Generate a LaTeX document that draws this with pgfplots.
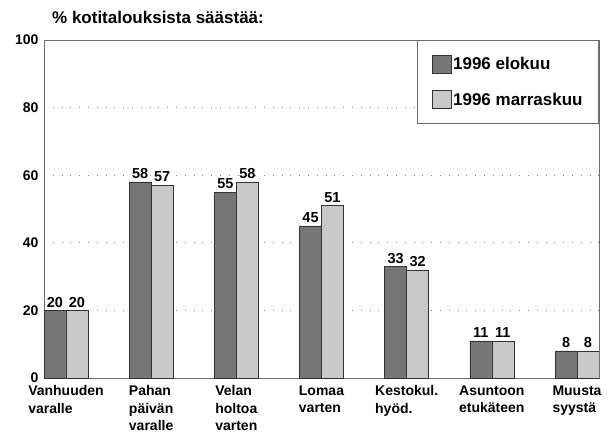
\documentclass[border=0pt]{standalone}
\usepackage{fontspec}
\setmainfont{Liberation Sans}
\usepackage{pgfplots}
\pgfplotsset{compat=1.18}
\definecolor{darkbar}{HTML}{767676}
\definecolor{lightbar}{HTML}{C8C8C8}
\definecolor{framegray}{HTML}{6E6E6E}

\begin{document}
\begin{tikzpicture}
  \begin{axis}[
    scale only axis,
    width=555pt, height=338pt,
    ybar=0pt,
    bar width=0.258,
    xmin=-0.258, xmax=6.258,
    ymin=0, ymax=100,
    ytick={0,20,40,60,80,100},
    xtick=data,
    xticklabels={{Vanhuuden\\varalle},{Pahan\\päivän\\varalle},{Velan\\holtoa\\varten},{Lomaa\\varten},{Kestokul.\\hyöd.},{Asuntoon\\etukäteen},{Muusta\\syystä}},
    x tick label style={align=left, font=\fontsize{14}{17.5}\selectfont\bfseries, yshift=-4pt},
    y tick label style={font=\fontsize{14}{14}\selectfont\bfseries, xshift=-2pt},
    /pgf/number format/assume math mode=true,
    major tick length=0pt,
    axis line style={framegray, line width=0.8pt},
    ymajorgrids,
    grid style={gray, line width=0.8pt, dash pattern=on 0.8pt off 8pt},
    nodes near coords,
    every node near coord/.append style={font=\fontsize{14.5}{14.5}\selectfont\bfseries, inner sep=2pt, yshift=1pt},
    legend style={at={(1,1)}, anchor=north east, draw=framegray, line width=0.8pt, fill=white,
      inner xsep=14pt, inner ysep=14.5pt, row sep=17pt,
      nodes={inner sep=2pt},
      font=\fontsize{17}{17}\selectfont\bfseries},
    legend cell align=left,
    legend image code/.code={\draw[#1, line width=0.5pt] (0pt,-9pt) rectangle (19pt,9pt);},
  ]
    \addplot[fill=darkbar, draw=black!80, line width=0.5pt] coordinates {(0,20) (1,58) (2,55) (3,45) (4,33) (5,11) (6,8)};
    \addplot[fill=lightbar, draw=black!80, line width=0.5pt] coordinates {(0,20) (1,57) (2,58) (3,51) (4,32) (5,11) (6,8)};
    \legend{1996 elokuu, 1996 marraskuu}
  \end{axis}
  \node[anchor=base west, font=\fontsize{17}{17}\selectfont\bfseries, inner sep=0pt]
    at (current axis.north west) [xshift=8pt, yshift=17pt] {\% kotitalouksista säästää:};
  \path (current axis.south west) ++(-44pt,-55pt) rectangle ++(613pt,433pt);
\end{tikzpicture}
\end{document}
